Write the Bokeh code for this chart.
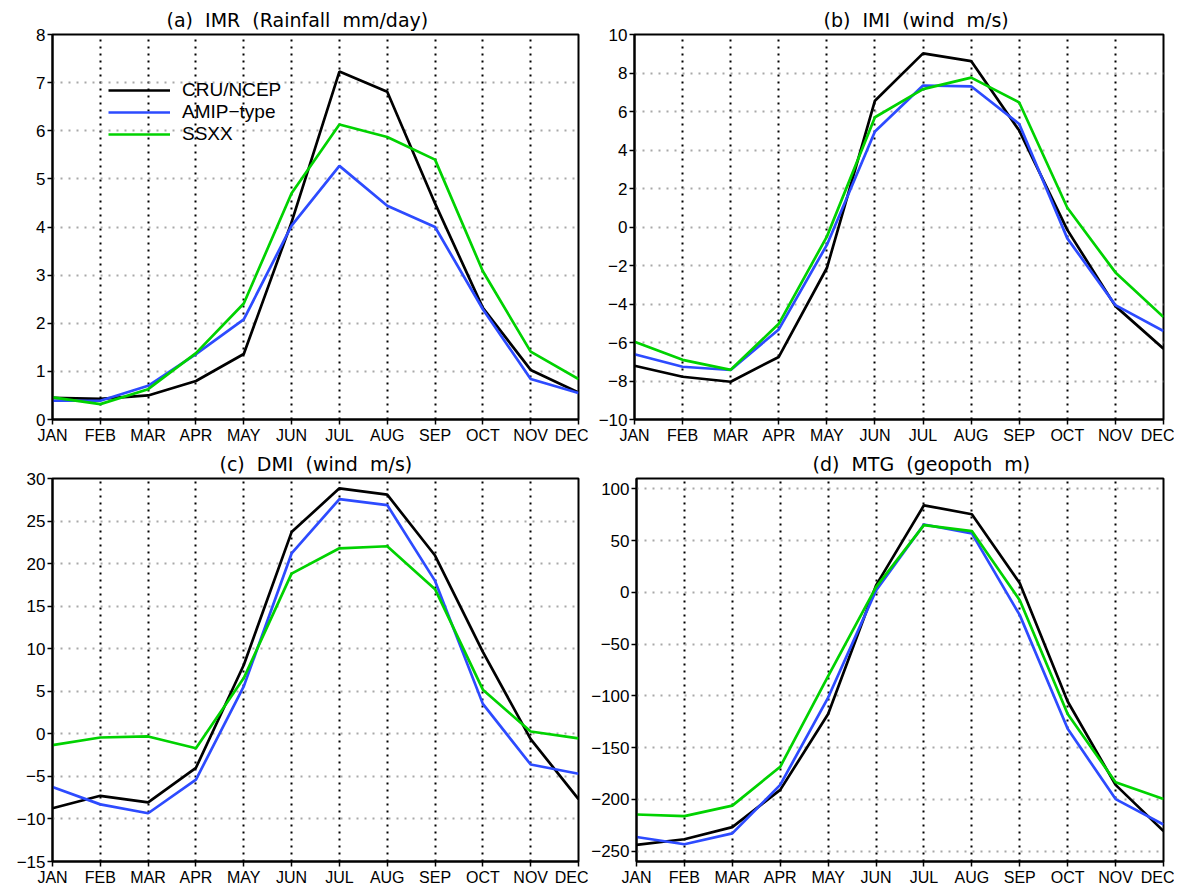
from bokeh.plotting import figure
from bokeh.layouts import column, row
from bokeh.models import Range1d, FixedTicker, Legend, LegendItem, Title
from bokeh.embed import file_html
from bokeh.resources import INLINE

months = ["JAN", "FEB", "MAR", "APR", "MAY", "JUN", "JUL", "AUG", "SEP", "OCT", "NOV", "DEC"]
series_names = ["CRU/NCEP", "AMIP\u2212type", "SSXX"]

imr_cru = [0.45, 0.43, 0.50, 0.80, 1.36, 4.10, 7.23, 6.81, 4.49, 2.32, 1.03, 0.56]
imr_amip = [0.39, 0.39, 0.70, 1.36, 2.08, 4.03, 5.27, 4.44, 4.00, 2.29, 0.84, 0.55]
imr_ssxx = [0.46, 0.32, 0.63, 1.38, 2.41, 4.70, 6.13, 5.87, 5.40, 3.08, 1.41, 0.84]

imi_cru = [-7.21, -7.78, -8.04, -6.75, -2.13, 6.56, 9.02, 8.62, 5.01, -0.15, -4.11, -6.32]
imi_amip = [-6.61, -7.26, -7.43, -5.32, -0.93, 4.96, 7.35, 7.31, 5.35, -0.59, -4.06, -5.40]
imi_ssxx = [-5.96, -6.90, -7.42, -5.03, -0.50, 5.70, 7.16, 7.76, 6.47, 1.00, -2.36, -4.68]

dmi_cru = [-8.75, -7.28, -8.06, -3.99, 8.09, 23.70, 28.85, 28.10, 20.95, 9.64, -0.62, -7.67]
dmi_amip = [-6.24, -8.29, -9.33, -5.38, 5.58, 21.19, 27.58, 26.88, 17.97, 3.52, -3.60, -4.69]
dmi_ssxx = [-1.32, -0.43, -0.31, -1.70, 6.55, 18.82, 21.80, 22.04, 17.00, 5.19, 0.27, -0.54]

mtg_cru = [-243.9, -238.5, -226.8, -190.8, -117.5, 6.7, 84.1, 75.5, 8.9, -105.4, -186.0, -230.6]
mtg_amip = [-236.3, -243.3, -232.8, -186.0, -101.6, 1.9, 65.6, 57.0, -22.0, -131.8, -199.7, -224.2]
mtg_ssxx = [-214.6, -216.2, -206.0, -168.5, -80.9, 5.1, 65.0, 59.2, -7.6, -117.5, -183.4, -199.7]

S = "\u00a0\u00a0"
titles = ["(a)" + S + "IMR" + S + "(Rainfall" + S + "mm/day)",
          "(b)" + S + "IMI" + S + "(wind" + S + "m/s)",
          "(c)" + S + "DMI" + S + "(wind" + S + "m/s)",
          "(d)" + S + "MTG" + S + "(geopoth" + S + "m)"]
y_ranges = [(0, 8), (-10, 10), (-15, 30), (-260, 110)]
y_ticks = [list(range(0, 9, 1)), list(range(-10, 11, 2)), list(range(-15, 31, 5)), list(range(-250, 101, 50))]
data = [(imr_cru, imr_amip, imr_ssxx), (imi_cru, imi_amip, imi_ssxx),
        (dmi_cru, dmi_amip, dmi_ssxx), (mtg_cru, mtg_amip, mtg_ssxx)]
colors = ["black", "#2d4bff", "#00d200"]

FONT = "Liberation Sans"
TFONT = "DejaVu Sans"
x = list(range(12))

# (width, height, border_left, border_right, border_top, border_bottom, title_offset)
geom = [
    (588, 447, 52, 10, 34, 28, 114),
    (586, 447, 46, 11, 34, 28, 189),
    (588, 441, 52, 10, 30, 25, 167),
    (586, 441, 46, 11, 31, 24, 176),
]

figs = []
for i in range(4):
    w, h, bl, br, bt, bb, toff = geom[i]
    p = figure(width=w, height=h, output_backend="svg", toolbar_location=None,
               x_range=Range1d(0, 11), y_range=Range1d(*y_ranges[i]),
               min_border_left=bl, min_border_right=br, min_border_top=bt, min_border_bottom=bb,
               background_fill_color="white", border_fill_color="white")
    p.title = Title(text=titles[i], align="left", text_font=TFONT, text_font_size="19px",
                    text_font_style="normal", text_color="black", offset=toff, standoff=7)
    p.outline_line_color = "black"
    p.outline_line_width = 2
    p.outline_line_alpha = 1

    p.xaxis.ticker = FixedTicker(ticks=x)
    p.xaxis.major_label_overrides = {k: months[k] for k in x}
    p.yaxis.ticker = FixedTicker(ticks=y_ticks[i])
    for ax in (p.xaxis, p.yaxis):
        ax.axis_line_color = "black"
        ax.axis_line_width = 2
        ax.major_tick_line_color = "black"
        ax.major_tick_line_width = 1.5
        ax.major_tick_out = 5
        ax.major_tick_in = 0
        ax.minor_tick_line_color = None
        ax.major_label_text_font = FONT
        ax.major_label_text_color = "black"
        ax.major_label_text_font_style = "normal"
    p.xaxis.major_label_text_font_size = "16px"
    p.yaxis.major_label_text_font_size = "17px"
    p.xaxis.major_label_standoff = 2
    p.yaxis.major_label_standoff = 2

    p.xgrid.ticker = FixedTicker(ticks=list(range(1, 11)))
    p.xgrid.grid_line_color = "black"
    p.xgrid.grid_line_width = 2
    p.xgrid.grid_line_dash = "2 5"
    p.ygrid.ticker = FixedTicker(ticks=y_ticks[i])
    p.ygrid.grid_line_color = "#a8a8a8"
    p.ygrid.grid_line_width = 2
    p.ygrid.grid_line_dash = "2 6"

    renderers = []
    for s, c in zip(data[i], colors):
        r = p.line(x, s, line_color=c, line_width=2.7)
        renderers.append(r)

    if i == 0:
        legend = Legend(items=[LegendItem(label=n, renderers=[r]) for n, r in zip(series_names, renderers)],
                        location=(56, 274), orientation="vertical")
        legend.background_fill_alpha = 0
        legend.border_line_color = None
        legend.margin = 0
        legend.padding = 0
        legend.spacing = 0
        legend.glyph_width = 62
        legend.glyph_height = 20
        legend.label_height = 20
        legend.label_standoff = 12
        legend.label_text_font = FONT
        legend.label_text_font_size = "19px"
        legend.label_text_color = "black"
        legend.label_text_line_height = 1.0
        p.add_layout(legend, "center")
    figs.append(p)

layout = column(row(figs[0], figs[1]), row(figs[2], figs[3]))
open("out.html", "w").write(file_html(layout, INLINE))
